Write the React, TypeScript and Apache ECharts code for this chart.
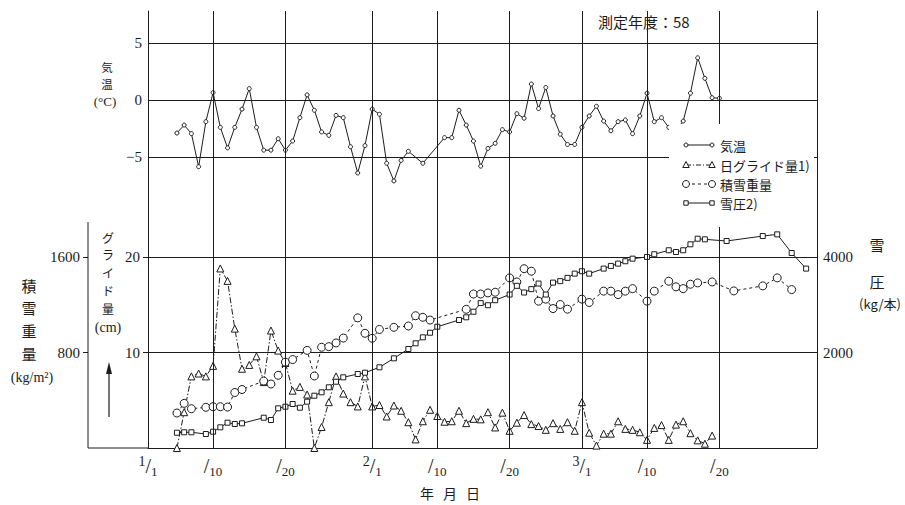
import React, { useEffect, useRef } from "react";
import * as echarts from "echarts";

// x value = days since 1 Jan (1/1 = 0, 2/1 = 31, 3/1 = 60)
const xTickDays = [0, 9, 19, 31, 40, 50, 60, 69, 79];
const xTickLabels = ["1/1", "/10", "/20", "2/1", "/10", "/20", "3/1", "/10", "/20"];
const dateLineDays = [9, 19, 31, 40, 50, 60, 69, 79];

// 気温 (°C)
const tempData: [number, number][] = [
  [4, -2.9], [5, -2.2], [6, -2.95], [7, -5.85], [8, -1.9], [9, 0.65], [10, -2.4], [11, -4.2],
  [12, -2.4], [13, -0.8], [14, 1.0], [15, -2.4], [16, -4.4], [17, -4.4], [18, -3.4], [19, -4.4],
  [20, -3.6], [21, -1.55], [22, 0.45], [23, -0.9], [24, -2.8], [25, -3.1], [26, -1.35], [27, -1.55],
  [28, -4.1], [29, -6.4], [30, -4.0], [31, -0.8], [32, -1.25], [33, -5.55], [34, -7.1], [35, -5.3],
  [36, -4.5], [38, -5.55], [41, -3.3], [42, -3.3], [43, -0.9], [44, -2.2], [45, -3.6], [46, -5.8],
  [47, -4.25], [48, -3.8], [49, -2.6], [50, -2.8], [51, -1.2], [52, -1.6], [53, 1.4], [54, -0.75],
  [55, 1.1], [56, -1.4], [57, -3.0], [58, -3.9], [59, -3.9], [60, -2.4], [61, -1.4], [62, -0.55],
  [63, -1.85], [64, -2.7], [65, -1.9], [66, -1.75], [67, -2.95], [68, -1.4], [69, 0.6], [70, -1.9],
  [71, -1.55], [72, -2.4], [73, -2.65], [74, -1.85], [75, 0.6], [76, 3.7], [77, 1.9], [78, 0.2], [79, 0.15],
];

// 日グライド量 (cm)
const glideData: [number, number][] = [
  [4, 0], [5, 3.75], [6, 7.5], [7, 7.8], [8, 7.5], [9, 8.6], [10, 18.8], [11, 17.5], [12, 12.5],
  [13, 8.3], [14, 8.7], [15, 9.6], [16, 6.9], [17, 12.3], [18, 10.2], [19, 8.9], [20, 6.0], [21, 6.4],
  [22, 5.6], [23, 0], [24, 2.2], [25, 4.8], [26, 7.5], [27, 5.7], [28, 4.8], [29, 4.35], [30, 7.5],
  [31, 4.35], [32, 4.5], [33, 3.3], [34, 4.45], [35, 3.9], [36, 2.7], [37, 0.9], [38, 2.8], [39, 4.0],
  [40, 3.35], [41, 2.75], [42, 2.8], [43, 3.9], [44, 2.6], [45, 3.05], [46, 3.0], [47, 3.75], [48, 2.15],
  [49, 3.7], [50, 1.8], [51, 2.65], [52, 3.45], [53, 2.5], [54, 2.3], [55, 1.9], [56, 2.6], [57, 2.0],
  [58, 2.7], [59, 1.8], [60, 4.8], [61, 1.6], [62, 0.25], [63, 1.5], [64, 1.5], [65, 2.8], [66, 2.0],
  [67, 1.9], [68, 1.65], [69, 0.85], [70, 2.1], [71, 2.4], [72, 0.85], [73, 2.45], [74, 2.8], [75, 1.55],
  [76, 0.8], [77, 0.45], [78, 1.3],
];

// 積雪重量 (kg/m²)
const snowWeightData: [number, number][] = [
  [4, 293], [5, 374], [6, 329], [8, 341], [9, 346], [10, 346], [11, 343], [12, 465], [13, 490],
  [16, 561], [17, 536], [18, 609], [19, 719], [20, 741], [22, 818], [23, 603], [24, 844], [25, 849],
  [26, 880], [27, 921], [29, 1090], [30, 961], [31, 919], [32, 993], [34, 1011], [36, 1022], [37, 1108],
  [38, 1095], [39, 1072], [44, 1162], [45, 1290], [46, 1290], [47, 1299], [48, 1305], [50, 1425],
  [51, 1391], [52, 1502], [53, 1481], [54, 1230], [55, 1247], [56, 1168], [57, 1202], [58, 1163],
  [60, 1247], [61, 1219], [63, 1314], [64, 1314], [65, 1285], [66, 1314], [67, 1335], [69, 1230],
  [70, 1314], [72, 1397], [73, 1350], [74, 1335], [75, 1372], [76, 1383], [78, 1391], [81, 1316],
  [85, 1358], [87, 1425], [89, 1327],
];

// 雪圧 (kg/本)
const pressureData: [number, number][] = [
  [4, 320], [5, 329], [6, 329], [8, 293], [9, 341], [10, 433], [11, 530], [12, 503], [13, 517],
  [16, 634], [17, 586], [18, 831], [19, 865], [20, 921], [21, 844], [22, 970], [23, 1095], [24, 1166],
  [25, 1271], [26, 1388], [27, 1480], [29, 1550], [30, 1577], [32, 1690], [34, 1878], [36, 2073],
  [37, 2192], [38, 2318], [39, 2414], [40, 2540], [43, 2680], [44, 2737], [45, 2854], [46, 3035],
  [47, 2990], [48, 3095], [50, 3214], [51, 3396], [52, 3256], [53, 3327], [54, 3444], [55, 3214],
  [56, 3464], [57, 3494], [58, 3563], [59, 3652], [60, 3702], [61, 3652], [63, 3757], [64, 3813],
  [65, 3861], [66, 3911], [67, 3965], [69, 4001], [70, 4057], [72, 4141], [73, 4105], [74, 4141],
  [75, 4266], [76, 4383], [77, 4370], [80, 4335], [85, 4439], [87, 4474], [89, 4084], [91, 3757],
];

const legendNames = ["気温", "日グライド量1)", "積雪重量", "雪圧2)"];

const SERIF = "'Liberation Serif', 'DejaVu Serif', serif";
const JP = "'Noto Sans CJK JP', sans-serif";
const INK = "#1c1c1c";

function fractionLabel(label: string): string {
  const [a, b] = label.split("/");
  return (a ? `{n|${a}}` : "") + `{s|/}{d|${b}}`;
}

function charText(ch: string, x: number, y: number, size: number, family = JP): any {
  return {
    type: "text", x, y,
    style: { text: ch, fontFamily: family, fontSize: size, fill: INK, align: "center", verticalAlign: "middle" },
  };
}

function buildOption(): any {
  const axisLineStyle = { color: INK, width: 1 };
  const numLabel = { fontFamily: SERIF, fontSize: 15, color: INK };
  const hideZero = (v: number) => (v === 0 ? "" : String(v));

  const legendRows = [145, 165, 184, 203];
  const lx1 = 686, lx2 = 712;
  const tri = (cx: number, cy: number) => ({
    type: "polygon", z: 102,
    shape: { points: [[cx, cy - 3.5], [cx - 3.2, cy + 2.5], [cx + 3.2, cy + 2.5]] },
    style: { fill: "#fff", stroke: INK, lineWidth: 1 },
  });
  const circ = (cx: number, cy: number, r: number) => ({
    type: "circle", z: 102, shape: { cx, cy, r }, style: { fill: "#fff", stroke: INK, lineWidth: 1 },
  });
  const sq = (cx: number, cy: number) => ({
    type: "rect", z: 102, shape: { x: cx - 2.2, y: cy - 2.2, width: 4.4, height: 4.4 },
    style: { fill: "#fff", stroke: INK, lineWidth: 1 },
  });
  const seg = (y: number, dash?: number[]) => ({
    type: "line", z: 101, shape: { x1: lx1, y1: y, x2: lx2, y2: y },
    style: { stroke: INK, lineWidth: 1, lineDash: dash },
  });
  const legendText = (i: number) => ({
    type: "text", z: 103, x: 720, y: legendRows[i],
    style: { text: legendNames[i], fontFamily: JP, fontSize: 13, fill: INK, align: "left", verticalAlign: "middle" },
  });

  const graphic: any[] = [
    // outer left axis line for 積雪重量 and base line extension
    { type: "line", shape: { x1: 88, y1: 222, x2: 88, y2: 448 }, style: { stroke: INK, lineWidth: 1 } },
    { type: "line", shape: { x1: 88, y1: 448, x2: 148, y2: 448 }, style: { stroke: INK, lineWidth: 1 } },
    // title
    { type: "text", x: 598, y: 21, style: { text: "測定年度：58", fontFamily: JP, fontSize: 15, fill: INK, align: "left", verticalAlign: "middle" } },
    // 気温 label
    charText("気", 107, 67, 11.5),
    charText("温", 107, 84, 11.5),
    charText("(°C)", 105, 101, 13, SERIF),
    // グライド量 label
    charText("グ", 108, 237, 12),
    charText("ラ", 108, 254.8, 12),
    charText("イ", 108, 272.6, 12),
    charText("ド", 108, 290.4, 12),
    charText("量", 108, 308.2, 12),
    charText("(cm)", 108, 327, 14, SERIF),
    // arrow
    { type: "line", shape: { x1: 109, y1: 417, x2: 109, y2: 368 }, style: { stroke: INK, lineWidth: 1.2 } },
    { type: "polygon", shape: { points: [[106, 374], [109, 362], [112, 374]] }, style: { fill: INK } },
    // 積雪重量 label
    charText("積", 29, 285, 15),
    charText("雪", 29, 307.5, 15),
    charText("重", 29, 330, 15),
    charText("量", 29, 353, 15),
    charText("(kg/m²)", 32, 377, 14, SERIF),
    // 雪圧 label
    charText("雪", 877, 244, 15),
    charText("圧", 877, 281, 15),
    charText("(kg/本)", 880, 303, 13),
    // x axis name
    charText("年", 427, 493, 14),
    charText("月", 450, 493, 14),
    charText("日", 473, 493, 14),
    // legend box
    { type: "rect", z: 100, shape: { x: 669, y: 124, width: 145, height: 103 }, style: { fill: "#fff" } },
    seg(legendRows[0]), circ(lx1, legendRows[0], 2), circ(lx2, legendRows[0], 2), legendText(0),
    seg(legendRows[1], [5, 2, 1, 2]), tri(lx1, legendRows[1]), tri(lx2, legendRows[1]), legendText(1),
    seg(legendRows[2], [3, 3]), circ(lx1, legendRows[2], 3.5), circ(lx2, legendRows[2], 3.5), legendText(2),
    seg(legendRows[3]), sq(lx1, legendRows[3]), sq(lx2, legendRows[3]), legendText(3),
  ];

  const xHidden = (gridIndex: number) => ({ gridIndex, type: "value", min: 0, max: 92.5, show: false });

  return {
    animation: false,
    backgroundColor: "#fff",
    grid: [
      { left: 148, top: 11, width: 669, height: 437 },
      { left: 148, top: 43, width: 669, height: 114 },
      { left: 148, top: 257, width: 669, height: 191 },
    ],
    xAxis: [
      {
        gridIndex: 0, type: "value", min: 0, max: 92.5, interval: 1,
        axisLine: { show: true, lineStyle: axisLineStyle },
        axisTick: { show: false },
        splitLine: { show: false },
        axisLabel: {
          margin: 6,
          color: INK,
          formatter: (v: number) => {
            const i = xTickDays.indexOf(Math.round(v * 1000) / 1000);
            return i >= 0 ? fractionLabel(xTickLabels[i]) : "";
          },
          rich: {
            n: { fontFamily: SERIF, fontSize: 14, color: INK, verticalAlign: "top", lineHeight: 14 },
            s: { fontFamily: SERIF, fontSize: 20, color: INK, lineHeight: 24 },
            d: { fontFamily: SERIF, fontSize: 13, color: INK, verticalAlign: "bottom", lineHeight: 14 },
          },
        },
      },
      xHidden(1),
      xHidden(2),
    ],
    yAxis: [
      { gridIndex: 0, type: "value", min: 0, max: 1, position: "left", axisLine: { show: true, lineStyle: axisLineStyle }, axisTick: { show: false }, axisLabel: { show: false }, splitLine: { show: false } },
      { gridIndex: 0, type: "value", min: 0, max: 1, position: "right", axisLine: { show: true, lineStyle: axisLineStyle }, axisTick: { show: false }, axisLabel: { show: false }, splitLine: { show: false } },
      {
        gridIndex: 1, type: "value", min: -5, max: 5, interval: 5, position: "left",
        axisLine: { show: false }, axisTick: { show: false },
        splitLine: { show: true, lineStyle: axisLineStyle },
        axisLabel: { ...numLabel, margin: 6, formatter: (v: number) => (v < 0 ? "−" + Math.abs(v) : String(v)) },
      },
      {
        gridIndex: 2, type: "value", min: 0, max: 20, interval: 10, position: "left",
        axisLine: { show: false }, axisTick: { show: true, length: 5, lineStyle: axisLineStyle, customValues: [10, 20] },
        splitLine: { show: true, lineStyle: axisLineStyle },
        axisLabel: { ...numLabel, margin: 8, formatter: hideZero },
      },
      {
        gridIndex: 2, type: "value", min: 0, max: 1600, interval: 800, position: "left", offset: 60,
        axisLine: { show: false }, axisTick: { show: true, length: 5, lineStyle: axisLineStyle, customValues: [800, 1600] },
        splitLine: { show: false },
        axisLabel: { ...numLabel, margin: 8, formatter: hideZero },
      },
      {
        gridIndex: 2, type: "value", min: 0, max: 4000, interval: 2000, position: "right",
        axisLine: { show: false }, axisTick: { show: false },
        splitLine: { show: false },
        axisLabel: { ...numLabel, margin: 6, formatter: hideZero },
      },
    ],
    graphic,
    series: [
      {
        type: "line", xAxisIndex: 0, yAxisIndex: 0, data: [[0, 5]], showSymbol: false, silent: true,
        lineStyle: { opacity: 0 },
        markLine: {
          silent: true, symbol: ["none", "none"], label: { show: false },
          lineStyle: { color: INK, type: "solid", width: 1 },
          data: dateLineDays.map((d) => ({ xAxis: d })),
        },
      },
      {
        name: legendNames[0], type: "line", xAxisIndex: 1, yAxisIndex: 2, data: tempData, clip: false,
        symbol: "circle", symbolSize: 4,
        lineStyle: { color: INK, width: 1 },
        itemStyle: { color: "#fff", borderColor: INK, borderWidth: 1 },
      },
      {
        name: legendNames[1], type: "line", xAxisIndex: 2, yAxisIndex: 3, data: glideData, clip: false,
        symbol: "triangle", symbolSize: 7,
        lineStyle: { color: INK, width: 1, type: [6, 2, 1.5, 2] },
        itemStyle: { color: "#fff", borderColor: INK, borderWidth: 1 },
      },
      {
        name: legendNames[2], type: "line", xAxisIndex: 2, yAxisIndex: 4, data: snowWeightData, clip: false,
        symbol: "circle", symbolSize: 8,
        lineStyle: { color: INK, width: 1, type: [3, 3] },
        itemStyle: { color: "#fff", borderColor: INK, borderWidth: 1 },
      },
      {
        name: legendNames[3], type: "line", xAxisIndex: 2, yAxisIndex: 5, data: pressureData, clip: false,
        symbol: "rect", symbolSize: 5,
        lineStyle: { color: INK, width: 1 },
        itemStyle: { color: "#fff", borderColor: INK, borderWidth: 1 },
      },
    ],
  };
}

export default function App() {
  const ref = useRef<HTMLDivElement>(null);
  useEffect(() => {
    if (!ref.current) return;
    const chart = echarts.init(ref.current, null, { renderer: "svg" });
    chart.setOption(buildOption());
    return () => chart.dispose();
  }, []);
  return (
    <div
      ref={ref}
      style={{ position: "fixed", left: 0, top: 0, width: 905, height: 505, background: "#fff" }}
    />
  );
}
